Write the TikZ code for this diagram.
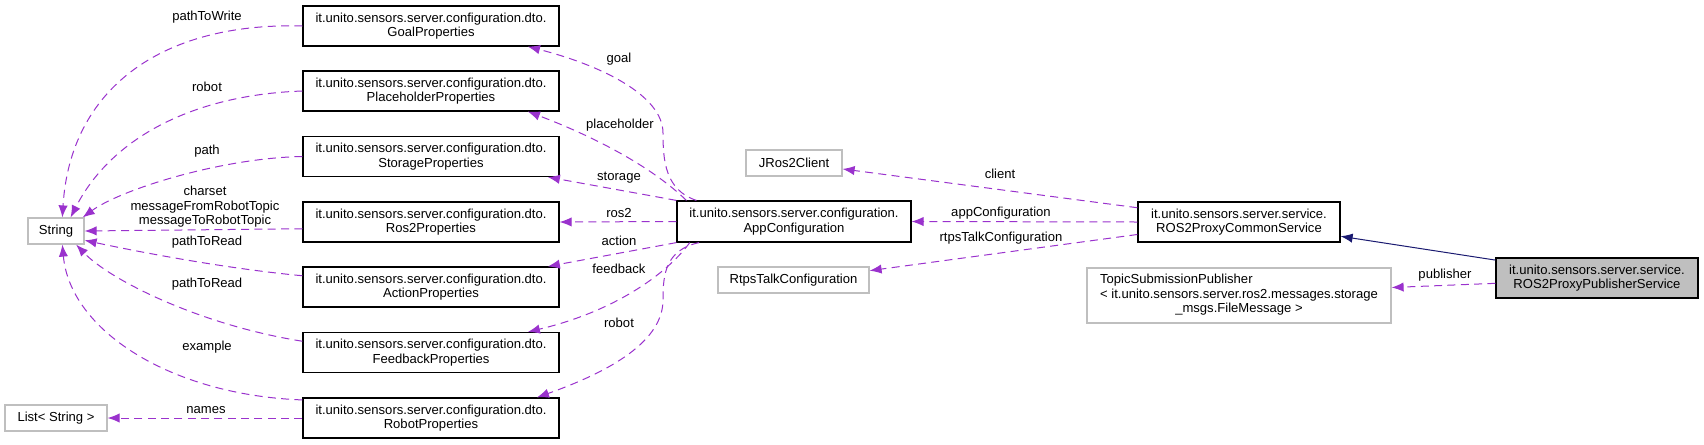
\documentclass[tikz,border=0pt]{standalone}
\usepackage{fontspec}
\setmainfont{Liberation Sans}
\usepackage{xcolor}
\usetikzlibrary{arrows.meta}
\definecolor{edgepurple}{HTML}{9A32CD}
\definecolor{edgenavy}{HTML}{191970}
\definecolor{boxgrey}{HTML}{BFBFBF}

\begin{document}
\begin{tikzpicture}[
            x = 0.75pt, y = -0.75pt,
            every node/.style = {font = \fontsize{9.8}{10.8}\selectfont, inner sep = 0pt},
            cls/.style = {draw = black, line width = 0.9pt, fill = white, align = center, minimum width = 192pt, minimum height = 30pt},
            ext/.style = {draw = boxgrey, line width = 0.9pt, fill = white, align = center, minimum height = 19.5pt},
            lbl/.style = {align = center},
            uses/.style = {draw = edgepurple, line width = 0.75pt, dash pattern = on 6pt off 4pt, -{Latex[length = 9pt, width = 7pt]}},
            isa/.style = {draw = edgenavy, line width = 0.75pt, -{Latex[length = 9pt, width = 7pt]}}
        ]
        \useasboundingbox (0,0) rectangle (1704,444);

        \node[ext, minimum width = 42pt] (S1) at (56,231) {String};
        \node[ext, minimum width = 76.5pt] (L1) at (56,418) {List< String >};

        \node[cls] (D1) at (431,26) {it.unito.sensors.server.configuration.dto.\\GoalProperties};
        \node[cls] (D2) at (431,91) {it.unito.sensors.server.configuration.dto.\\PlaceholderProperties};
        \node[cls] (D3) at (431,156.5) {it.unito.sensors.server.configuration.dto.\\StorageProperties};
        \node[cls] (D4) at (431,222) {it.unito.sensors.server.configuration.dto.\\Ros2Properties};
        \node[cls] (D5) at (431,287) {it.unito.sensors.server.configuration.dto.\\ActionProperties};
        \node[cls] (D6) at (431,352.5) {it.unito.sensors.server.configuration.dto.\\FeedbackProperties};
        \node[cls] (D7) at (431,418) {it.unito.sensors.server.configuration.dto.\\RobotProperties};

        \node[cls, minimum width = 175.5pt, minimum height = 30.75pt] (A1) at (794,221.5) {it.unito.sensors.server.configuration.\\AppConfiguration};
        \node[ext, minimum width = 72pt] (J1) at (794,163) {JRos2Client};
        \node[ext, minimum width = 113.25pt] (R1) at (793.5,280) {RtpsTalkConfiguration};

        \node[cls, minimum width = 151.5pt] (C1) at (1239,222) {it.unito.sensors.server.service.\\ROS2ProxyCommonService};
        \node[cls, fill = boxgrey, minimum width = 151.5pt] (P1) at (1597,278) {it.unito.sensors.server.service.\\ROS2ProxyPublisherService};
        \node[ext, minimum width = 228pt, minimum height = 41.25pt] (T1) at (1239,295.5) {\begin{tabular}{@{}l@{}}TopicSubmissionPublisher\\< it.unito.sensors.server.ros2.messages.storage\\\multicolumn{1}{@{}c@{}}{\_msgs.FileMessage >}\end{tabular}};

        \draw[uses] (D1.west) .. controls (160,22) and (70,90) .. (S1.65);
        \draw[uses] (D2.west) .. controls (190,95) and (110,140) .. (S1.43);
        \draw[uses] (D3.west) .. controls (220,158) and (120,190) .. (S1.27);
        \draw[uses] (D4.183) -- (S1.east);
        \draw[uses] (D5.175) .. controls (220,268) and (130,250) .. (S1.-18);
        \draw[uses] (D6.175) .. controls (200,325) and (110,280) .. (S1.-34);
        \draw[uses] (D7.172) .. controls (170,395) and (70,330) .. (S1.-65);
        \draw[uses] (D7.west) -- (L1.east);

        \draw[uses] ([xshift = 15pt]A1.north west) .. controls (665,190) and (663,160) .. (663,133) .. controls (663,95) and (600,65) .. (D1.-12);
        \draw[uses] ([xshift = 7.5pt]A1.north west) .. controls (650,165) and (590,135) .. (D2.-12);
        \draw[uses] (A1.north west) -- (D3.-10);
        \draw[uses] (A1.west) -- (D4.east);
        \draw[uses] (A1.south west) -- (D5.10);
        \draw[uses] ([xshift = 10pt]A1.south west) .. controls (670,270) and (620,310) .. (D6.12);
        \draw[uses] ([xshift = 17pt]A1.south west) .. controls (665,250) and (663,275) .. (663,300) .. controls (663,345) and (600,375) .. (D7.11);

        \draw[uses] (C1.172) -- (J1.-7);
        \draw[uses] (C1.west) -- (A1.east);
        \draw[uses] (C1.187) -- (R1.7);
        \draw[isa] (P1.170) -- (C1.-8);
        \draw[uses] (P1.183) -- (T1.3);

        \node[lbl] (e1) at (207,17) {pathToWrite};
        \node[lbl] (e2) at (207,87) {robot};
        \node[lbl] (e3) at (207,151) {path};
        \node[lbl] (e4) at (205,207) {charset\\messageFromRobotTopic\\messageToRobotTopic};
        \node[lbl] (e5) at (207,242) {pathToRead};
        \node[lbl] (e6) at (207,284) {pathToRead};
        \node[lbl] (e7) at (207,347) {example};
        \node[lbl] (e8) at (206,410) {names};
        \node[lbl] (f1) at (619,59) {goal};
        \node[lbl] (f2) at (620,125) {placeholder};
        \node[lbl] (f3) at (619,178) {storage};
        \node[lbl] (f4) at (619,213) {ros2};
        \node[lbl] (f5) at (619,241) {action};
        \node[lbl] (f6) at (619,269) {feedback};
        \node[lbl] (f7) at (619,323) {robot};
        \node[lbl] (g1) at (1000,174) {client};
        \node[lbl] (g2) at (1001,213) {appConfiguration};
        \node[lbl] (g3) at (1001,238) {rtpsTalkConfiguration};
        \node[lbl] (g4) at (1445,275) {publisher};
    \end{tikzpicture}
\end{document}
